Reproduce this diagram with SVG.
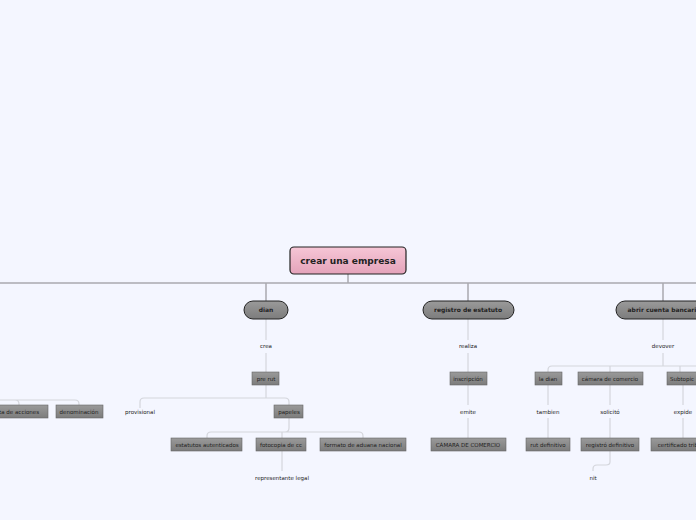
<svg xmlns="http://www.w3.org/2000/svg" width="696" height="520" viewBox="0 0 696 520">
<defs>
<linearGradient id="pk" x1="0" y1="0" x2="0" y2="1"><stop offset="0" stop-color="#f6c6d6"/><stop offset="1" stop-color="#e4a3ba"/></linearGradient>
<linearGradient id="gr" x1="0" y1="0" x2="0" y2="1"><stop offset="0" stop-color="#9a9a9a"/><stop offset="1" stop-color="#7c7c7c"/></linearGradient>
</defs>
<style>
text{font-family:"DejaVu Sans","Liberation Sans",sans-serif;text-anchor:middle;fill:#222}
.t1{font-size:6px;font-weight:bold}
.t2{font-size:5.5px}
.l1{fill:url(#gr);stroke:#222;stroke-width:1}
.b{fill:url(#gr);stroke:#666;stroke-width:0.6}
.main{fill:none;stroke:#a9a9b0;stroke-width:1.5}
.c{fill:none;stroke:#d4d6dc;stroke-width:1.2}
</style>
<rect width="696" height="520" fill="#f4f6ff"/>
<g id="connectors">
<path class="main" d="M348 274V283M0 283H696M266 283V301M468 283V301M663 283V301"/>
<path class="c" d="M266 319V340M266 353V372M266 385V398M140 408V402Q140 398 144 398H285Q289 398 289 402V405"/>
<path class="c" d="M289 418V428Q289 432 285 432M211 432H359Q363 432 363 436V438M207 438V436Q207 432 211 432M282 432V438M282 451V471"/>
<path class="c" d="M0 400H15Q19 400 19 404V405M15 400H75Q79 400 79 404V405"/>
<path class="c" d="M468 319V340M468 353V372M468 385V405M468 418V438"/>
<path class="c" d="M663 319V340M663 353V366M552 366H696M548 372V370Q548 366 552 366M610 366V372M680 366V372"/>
<path class="c" d="M548 385V405M548 418V438M610 385V405M610 418V438M683 385V405M683 418V438"/>
<path class="c" d="M610 451V462Q610 465 606 465H597Q593 465 593 469V471"/>
</g>
<g id="root"><rect x="290" y="247" width="116" height="27" rx="4" fill="url(#pk)" stroke="#222" stroke-width="1.2"/><text x="348" y="264" style="font-size:9px;font-weight:bold">crear una empresa</text></g>
<g id="dian"><rect class="l1" x="244" y="301" width="44" height="18" rx="9"/><text class="t1" x="266" y="312">dian</text></g>
<g id="registro"><rect class="l1" x="423" y="301" width="91" height="18" rx="9"/><text class="t1" x="468" y="312">registro de estatuto</text></g>
<g id="abrir"><rect class="l1" x="616" y="301" width="100" height="18" rx="9"/><text class="t1" x="664" y="312">abrir cuenta bancaria</text></g>
<g id="crea"><text class="t2" x="266" y="348">crea</text></g>
<g id="realiza"><text class="t2" x="468" y="348">realiza</text></g>
<g id="devover"><text class="t2" x="663" y="348">devover</text></g>
<g id="prerut"><rect class="b" x="252" y="372" width="27" height="13"/><text class="t2" x="266" y="381">pre rut</text></g>
<g id="inscripcion"><rect class="b" x="450" y="372" width="37" height="13"/><text class="t2" x="468" y="381">inscripción</text></g>
<g id="ladian"><rect class="b" x="535" y="372" width="27" height="13"/><text class="t2" x="548" y="381">la dian</text></g>
<g id="camara"><rect class="b" x="578" y="372" width="65" height="13"/><text class="t2" x="610" y="381">cámara de comercio</text></g>
<g id="subtopic"><rect class="b" x="667" y="372" width="40" height="13"/><text class="t2" x="682" y="381">Subtopic</text></g>
<g id="venta"><rect class="b" x="-20" y="405" width="68" height="13"/><text class="t2" x="14" y="414">venta de acciones</text></g>
<g id="denominacion"><rect class="b" x="56" y="405" width="47" height="13"/><text class="t2" x="79" y="414">denominación</text></g>
<g id="provisional"><text class="t2" x="140" y="414">provisional</text></g>
<g id="papeles"><rect class="b" x="274" y="405" width="29" height="13"/><text class="t2" x="289" y="414">papeles</text></g>
<g id="emite"><text class="t2" x="468" y="414">emite</text></g>
<g id="tambien"><text class="t2" x="548" y="414">tambien</text></g>
<g id="solicito"><text class="t2" x="610" y="414">solicitó</text></g>
<g id="expide"><text class="t2" x="683" y="414">expide</text></g>
<g id="estatutos"><rect class="b" x="171" y="438" width="71" height="13"/><text class="t2" x="207" y="447">estatutos autenticados</text></g>
<g id="fotocopia"><rect class="b" x="256" y="438" width="50" height="13"/><text class="t2" x="281" y="447">fotocopia de cc</text></g>
<g id="formato"><rect class="b" x="320" y="438" width="86" height="13"/><text class="t2" x="363" y="447">formato de aduana nacional</text></g>
<g id="camaraC"><rect class="b" x="431" y="438" width="75" height="13"/><text class="t2" x="468" y="447">CÁMARA DE COMERCIO</text></g>
<g id="rutdef"><rect class="b" x="526" y="438" width="44" height="13"/><text class="t2" x="548" y="447">rut definitivo</text></g>
<g id="registrodef"><rect class="b" x="581" y="438" width="58" height="13"/><text class="t2" x="610" y="447">registró definitivo</text></g>
<g id="certificado"><rect class="b" x="651" y="438" width="70" height="13"/><text class="t2" x="686" y="447">certificado tributario</text></g>
<g id="representante"><text class="t2" x="282" y="480">representante legal</text></g>
<g id="nit"><text class="t2" x="593" y="480">nit</text></g>
</svg>
